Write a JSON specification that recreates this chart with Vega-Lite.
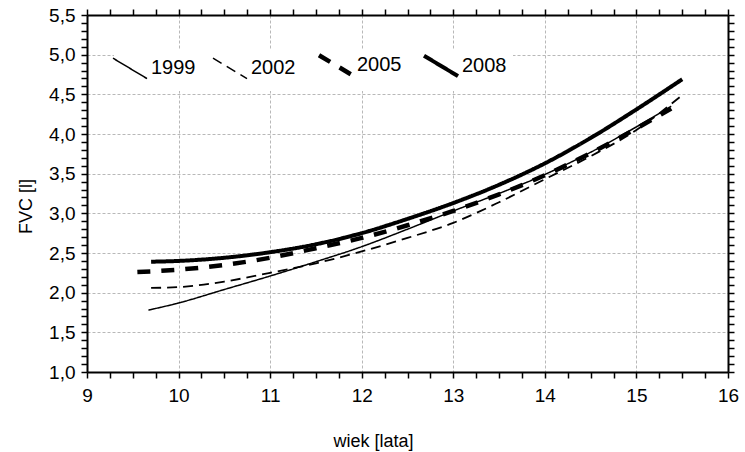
{
  "$schema": "https://vega.github.io/schema/vega-lite/v6.json",
  "width": 641,
  "height": 357,
  "autosize": {"type": "none"},
  "padding": {"left": 87, "top": 15, "right": 17, "bottom": 80},
  "background": "white",
  "config": {
    "view": {"stroke": null},
    "font": "Liberation Sans",
    "axis": {
      "domainColor": "black",
      "domainWidth": 2,
      "ticks": true,
      "tickColor": "black",
      "tickWidth": 1.5,
      "tickSize": 6,
      "gridColor": "#b8b8b8",
      "gridDash": [3, 2],
      "gridWidth": 1,
      "labelFont": "Liberation Sans",
      "labelFontSize": 19,
      "labelColor": "black",
      "titleFont": "Liberation Sans",
      "titleFontSize": 18,
      "titleFontWeight": "normal",
      "titleColor": "black"
    },
    "legend": {
      "orient": "none",
      "legendX": 27,
      "legendY": 34,
      "direction": "horizontal",
      "fillColor": "white",
      "padding": 6,
      "symbolType": "M-1,-0.6L1,0.6",
      "symbolSize": 1156,
      "symbolStrokeColor": "black",
      "symbolFillColor": "transparent",
      "labelFont": "Liberation Sans",
      "labelFontSize": 20,
      "labelColor": "black",
      "labelOffset": 11,
      "columnPadding": 14
    }
  },
  "data": {
    "values": [
      {"rok": "1999", "wiek": 9.67, "fvc": 1.78},
      {"rok": "1999", "wiek": 10.0, "fvc": 1.87},
      {"rok": "1999", "wiek": 10.5, "fvc": 2.04},
      {"rok": "1999", "wiek": 11.0, "fvc": 2.21},
      {"rok": "1999", "wiek": 11.5, "fvc": 2.39},
      {"rok": "1999", "wiek": 12.0, "fvc": 2.58},
      {"rok": "1999", "wiek": 12.5, "fvc": 2.8},
      {"rok": "1999", "wiek": 13.0, "fvc": 3.03},
      {"rok": "1999", "wiek": 13.5, "fvc": 3.25},
      {"rok": "1999", "wiek": 14.0, "fvc": 3.49},
      {"rok": "1999", "wiek": 14.5, "fvc": 3.77},
      {"rok": "1999", "wiek": 15.0, "fvc": 4.09},
      {"rok": "1999", "wiek": 15.38, "fvc": 4.35},

      {"rok": "2002", "wiek": 9.7, "fvc": 2.06},
      {"rok": "2002", "wiek": 10.0, "fvc": 2.07},
      {"rok": "2002", "wiek": 10.5, "fvc": 2.14},
      {"rok": "2002", "wiek": 11.0, "fvc": 2.25},
      {"rok": "2002", "wiek": 11.5, "fvc": 2.37},
      {"rok": "2002", "wiek": 12.0, "fvc": 2.52},
      {"rok": "2002", "wiek": 12.5, "fvc": 2.69},
      {"rok": "2002", "wiek": 13.0, "fvc": 2.88},
      {"rok": "2002", "wiek": 13.5, "fvc": 3.14},
      {"rok": "2002", "wiek": 14.0, "fvc": 3.43},
      {"rok": "2002", "wiek": 14.5, "fvc": 3.72},
      {"rok": "2002", "wiek": 15.0, "fvc": 4.05},
      {"rok": "2002", "wiek": 15.25, "fvc": 4.26},
      {"rok": "2002", "wiek": 15.5, "fvc": 4.49},

      {"rok": "2005", "wiek": 9.55, "fvc": 2.26},
      {"rok": "2005", "wiek": 10.0, "fvc": 2.29},
      {"rok": "2005", "wiek": 10.5, "fvc": 2.35},
      {"rok": "2005", "wiek": 11.0, "fvc": 2.44},
      {"rok": "2005", "wiek": 11.5, "fvc": 2.56},
      {"rok": "2005", "wiek": 12.0, "fvc": 2.69},
      {"rok": "2005", "wiek": 12.5, "fvc": 2.85},
      {"rok": "2005", "wiek": 13.0, "fvc": 3.03},
      {"rok": "2005", "wiek": 13.5, "fvc": 3.24},
      {"rok": "2005", "wiek": 14.0, "fvc": 3.48},
      {"rok": "2005", "wiek": 14.5, "fvc": 3.76},
      {"rok": "2005", "wiek": 15.0, "fvc": 4.07},
      {"rok": "2005", "wiek": 15.38, "fvc": 4.32},

      {"rok": "2008", "wiek": 9.7, "fvc": 2.39},
      {"rok": "2008", "wiek": 10.0, "fvc": 2.4},
      {"rok": "2008", "wiek": 10.5, "fvc": 2.44},
      {"rok": "2008", "wiek": 11.0, "fvc": 2.51},
      {"rok": "2008", "wiek": 11.5, "fvc": 2.61},
      {"rok": "2008", "wiek": 12.0, "fvc": 2.75},
      {"rok": "2008", "wiek": 12.5, "fvc": 2.93},
      {"rok": "2008", "wiek": 13.0, "fvc": 3.13},
      {"rok": "2008", "wiek": 13.5, "fvc": 3.36},
      {"rok": "2008", "wiek": 14.0, "fvc": 3.63},
      {"rok": "2008", "wiek": 14.5, "fvc": 3.95},
      {"rok": "2008", "wiek": 15.0, "fvc": 4.31},
      {"rok": "2008", "wiek": 15.5, "fvc": 4.69}
    ]
  },
  "resolve": {"axis": {"x": "independent", "y": "independent"}},
  "layer": [
    {
      "mark": {"type": "line", "interpolate": "monotone", "color": "black", "strokeCap": "butt"},
      "encoding": {
        "x": {
          "field": "wiek",
          "type": "quantitative",
          "scale": {"domain": [9, 16], "nice": false, "zero": false},
          "axis": {
            "orient": "bottom",
            "title": "wiek [lata]",
            "titleX": 286,
            "titleY": 69,
            "titleBaseline": "middle",
            "values": [9, 9.25, 9.5, 9.75, 10, 10.25, 10.5, 10.75, 11, 11.25, 11.5, 11.75, 12, 12.25, 12.5, 12.75, 13, 13.25, 13.5, 13.75, 14, 14.25, 14.5, 14.75, 15, 15.25, 15.5, 15.75, 16],
            "labelExpr": "datum.value % 1 === 0 ? format(datum.value, 'd') : ''",
            "labelPadding": 8,
            "labelOverlap": false,
            "labelFlush": false,
            "gridOpacity": {"condition": {"test": "datum.value % 1 === 0", "value": 1}, "value": 0},
            "encode": {
              "ticks": {"update": {"y2": {"signal": "datum.value % 1 === 0 ? -5 : -3"}}}
            }
          }
        },
        "y": {
          "field": "fvc",
          "type": "quantitative",
          "scale": {"domain": [1, 5.5], "nice": false, "zero": false},
          "axis": {
            "orient": "left",
            "title": "FVC [l]",
            "titleAngle": -90,
            "titleX": -61,
            "titleY": 191,
            "titleBaseline": "middle",
            "titleAlign": "center",
            "values": [1, 1.1, 1.2, 1.3, 1.4, 1.5, 1.6, 1.7, 1.8, 1.9, 2, 2.1, 2.2, 2.3, 2.4, 2.5, 2.6, 2.7, 2.8, 2.9, 3, 3.1, 3.2, 3.3, 3.4, 3.5, 3.6, 3.7, 3.8, 3.9, 4, 4.1, 4.2, 4.3, 4.4, 4.5, 4.6, 4.7, 4.8, 4.9, 5, 5.1, 5.2, 5.3, 5.4, 5.5],
            "labelExpr": "abs(datum.value * 2 - round(datum.value * 2)) < 0.001 ? replace(format(datum.value, '.1f'), '.', ',') : ''",
            "labelPadding": 6,
            "labelOverlap": false,
            "labelFlush": false,
            "gridOpacity": {"condition": {"test": "abs(datum.value * 2 - round(datum.value * 2)) < 0.001", "value": 1}, "value": 0},
            "encode": {
              "ticks": {"update": {"x2": {"signal": "abs(datum.value * 2 - round(datum.value * 2)) < 0.001 ? 6 : 3.5"}}}
            }
          }
        },
        "detail": {"field": "rok", "type": "nominal"},
        "strokeDash": {
          "field": "rok",
          "type": "nominal",
          "title": null,
          "scale": {"domain": ["1999", "2002", "2005", "2008"], "range": [[1, 0], [10, 6], [13, 11], [1, 0]]},
          "legend": {
            "encode": {
              "symbols": {
                "update": {
                  "strokeWidth": {"signal": "datum.value === '2005' ? 4.5 : datum.value === '2008' ? 4 : 1.5"}
                }
              }
            }
          }
        },
        "strokeWidth": {
          "condition": [
            {"test": "datum.rok === '2005'", "value": 4.5},
            {"test": "datum.rok === '2008'", "value": 4},
            {"test": "datum.rok === '2002'", "value": 1.8}
          ],
          "value": 1.5
        }
      }
    },
    {
      "mark": {"type": "line", "interpolate": "monotone", "opacity": 0},
      "encoding": {
        "x": {
          "field": "wiek",
          "type": "quantitative",
          "axis": {
            "orient": "top",
            "title": null,
            "labels": false,
            "grid": false,
            "values": [9, 9.25, 9.5, 9.75, 10, 10.25, 10.5, 10.75, 11, 11.25, 11.5, 11.75, 12, 12.25, 12.5, 12.75, 13, 13.25, 13.5, 13.75, 14, 14.25, 14.5, 14.75, 15, 15.25, 15.5, 15.75, 16],
            "encode": {
              "ticks": {"update": {"y2": {"signal": "datum.value % 1 === 0 ? 5 : 3"}}}
            }
          }
        },
        "y": {
          "field": "fvc",
          "type": "quantitative",
          "axis": {
            "orient": "right",
            "title": null,
            "labels": false,
            "grid": false,
            "values": [1, 1.1, 1.2, 1.3, 1.4, 1.5, 1.6, 1.7, 1.8, 1.9, 2, 2.1, 2.2, 2.3, 2.4, 2.5, 2.6, 2.7, 2.8, 2.9, 3, 3.1, 3.2, 3.3, 3.4, 3.5, 3.6, 3.7, 3.8, 3.9, 4, 4.1, 4.2, 4.3, 4.4, 4.5, 4.6, 4.7, 4.8, 4.9, 5, 5.1, 5.2, 5.3, 5.4, 5.5],
            "encode": {
              "ticks": {"update": {"x2": {"signal": "abs(datum.value * 2 - round(datum.value * 2)) < 0.001 ? -6 : -3.5"}}}
            }
          }
        },
        "detail": {"field": "rok", "type": "nominal"}
      }
    }
  ]
}
